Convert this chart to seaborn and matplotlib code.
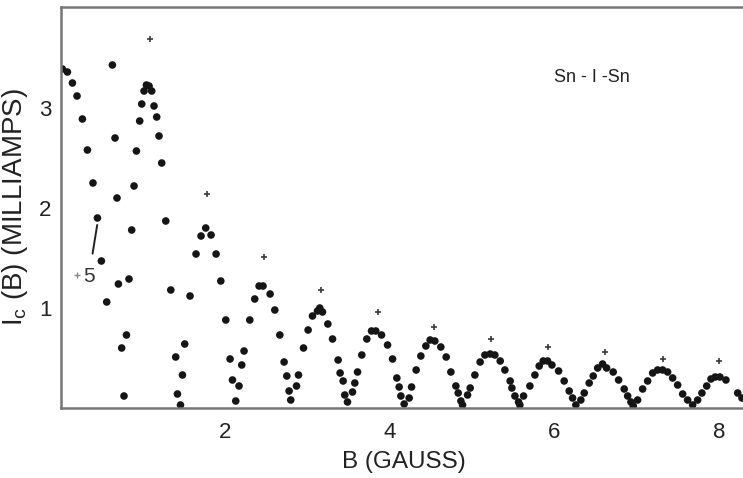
import numpy as np
import seaborn as sns
import matplotlib.pyplot as plt

# measured points (B in gauss, Ic in mA)
b_dots = [0.017, 0.078, 0.139, 0.195, 0.260, 0.321, 0.389, 0.443, 0.491, 0.556,
          0.625, 0.657, 0.681, 0.698, 0.738, 0.766, 0.796, 0.827, 0.860, 0.888,
          0.917, 0.957, 0.982, 1.010, 1.039, 1.071, 1.103, 1.131, 1.164, 1.192,
          1.225, 1.274, 1.335, 1.395, 1.416, 1.453, 1.477, 1.505, 1.569, 1.642,
          1.703, 1.760, 1.825, 1.886, 1.943, 2.004, 2.056, 2.085, 2.125, 2.165,
          2.198, 2.226, 2.296, 2.356, 2.409, 2.457, 2.543, 2.600, 2.661, 2.713,
          2.746, 2.774, 2.794, 2.864, 2.888, 2.949, 3.005, 3.058, 3.119, 3.147,
          3.180, 3.245, 3.302, 3.370, 3.394, 3.431, 3.451, 3.484, 3.545, 3.573,
          3.606, 3.658, 3.719, 3.776, 3.828, 3.898, 3.971, 4.032, 4.084, 4.112,
          4.133, 4.173, 4.234, 4.263, 4.319, 4.376, 4.437, 4.489, 4.546, 4.619,
          4.684, 4.741, 4.802, 4.830, 4.863, 4.883, 4.944, 4.976, 5.033, 5.097,
          5.155, 5.219, 5.276, 5.341, 5.398, 5.462, 5.483, 5.520, 5.564, 5.580,
          5.625, 5.702, 5.763, 5.815, 5.864, 5.917, 5.970, 6.051, 6.119, 6.180,
          6.221, 6.261, 6.322, 6.363, 6.423, 6.472, 6.526, 6.586, 6.635, 6.715,
          6.781, 6.849, 6.891, 6.931, 6.959, 7.012, 7.073, 7.134, 7.195, 7.255,
          7.316, 7.377, 7.438, 7.499, 7.560, 7.620, 7.681, 7.742, 7.794, 7.852,
          7.904, 7.956, 8.013, 8.086, 8.229, 8.281]
i_dots = [3.39, 3.36, 3.25, 3.12, 2.89, 2.58, 2.25, 1.90, 1.47, 1.06,
          3.43, 2.70, 2.10, 1.24, 0.60, 0.12, 0.73, 1.29, 1.78, 2.22,
          2.57, 2.87, 3.04, 3.17, 3.23, 3.22, 3.17, 3.02, 2.91, 2.72,
          2.45, 1.87, 1.18, 0.51, 0.14, 0.03, 0.33, 0.64, 1.12, 1.54,
          1.72, 1.80, 1.73, 1.54, 1.27, 0.88, 0.49, 0.28, 0.07, 0.22,
          0.43, 0.57, 0.88, 1.09, 1.22, 1.22, 1.14, 0.98, 0.73, 0.46,
          0.32, 0.17, 0.08, 0.22, 0.33, 0.60, 0.78, 0.92, 0.97, 1.00,
          0.96, 0.84, 0.69, 0.48, 0.35, 0.27, 0.13, 0.06, 0.16, 0.25,
          0.36, 0.53, 0.69, 0.77, 0.77, 0.73, 0.63, 0.49, 0.30, 0.21,
          0.12, 0.04, 0.10, 0.21, 0.38, 0.52, 0.62, 0.68, 0.67, 0.61,
          0.51, 0.36, 0.22, 0.15, 0.07, 0.03, 0.13, 0.20, 0.33, 0.46,
          0.53, 0.54, 0.53, 0.47, 0.38, 0.27, 0.20, 0.12, 0.06, 0.03,
          0.12, 0.22, 0.33, 0.42, 0.47, 0.47, 0.43, 0.37, 0.27, 0.17,
          0.10, 0.03, 0.08, 0.15, 0.25, 0.32, 0.40, 0.44, 0.40, 0.36,
          0.28, 0.19, 0.12, 0.06, 0.02, 0.08, 0.19, 0.27, 0.35, 0.38,
          0.38, 0.36, 0.30, 0.23, 0.14, 0.08, 0.03, 0.08, 0.15, 0.22,
          0.29, 0.31, 0.31, 0.28, 0.15, 0.10]

# "+" marks above each lobe
b_plus = [1.083, 1.781, 2.466, 3.159, 3.849, 4.538, 5.228, 5.917, 6.618, 7.316, 8.005]
i_plus = [3.69, 2.14, 1.51, 1.18, 0.96, 0.81, 0.69, 0.61, 0.56, 0.49, 0.47]

x_ticks = [2, 4, 6, 8]
y_ticks = [1, 2, 3]

sns.set_style("white")
plt.rcParams['font.family'] = ['Liberation Sans', 'DejaVu Sans']

fig = plt.figure(figsize=(7.43, 4.78), dpi=100)
ax = fig.add_axes([61 / 743, 70 / 478, 685 / 743, 401 / 478])

sns.scatterplot(x=b_dots, y=i_dots, ax=ax, s=30, color='#151515', edgecolor='none', linewidth=0)
sns.scatterplot(x=b_plus, y=i_plus, ax=ax, s=24, marker='+', color='#3a3a3a', linewidth=1.2)
sns.scatterplot(x=[0.19], y=[1.33], ax=ax, s=16, marker='+', color='#888888', linewidth=1.0)

ax.annotate('5', xy=(0.44, 1.83), xytext=(0.34, 1.32), fontsize=15, color='#333333',
            ha='center', va='center',
            arrowprops=dict(arrowstyle='-', color='#222222', lw=1.4, shrinkA=7, shrinkB=0))

ax.text(6.45, 3.31, 'Sn - I -Sn', fontsize=13, color='#222222', ha='center', va='center')

ax.set_xlim(0, 8.33)
ax.set_ylim(0, 4.01)
ax.set_xticks(x_ticks)
ax.set_xticks([1, 3, 5, 7], minor=True)
ax.set_yticks(y_ticks)
ax.set_yticks([0.5, 1.5, 2.5, 3.5], minor=True)
ax.tick_params(axis='both', which='both', direction='in', length=3, width=1, color='#777777',
               labelsize=16, colors='#222222')
ax.tick_params(axis='x', pad=10)
ax.tick_params(axis='y', pad=7)

for sp in ax.spines.values():
    sp.set_color('#777777')
    sp.set_linewidth(1.8)

ax.set_xlabel('B (GAUSS)', fontsize=17.5, color='#222222', labelpad=6)
ax.set_ylabel(r'I$_{\mathregular{c}}$ (B) (MILLIAMPS)', fontsize=20, color='#222222', labelpad=6)

fig.savefig('out.png', dpi=100)
